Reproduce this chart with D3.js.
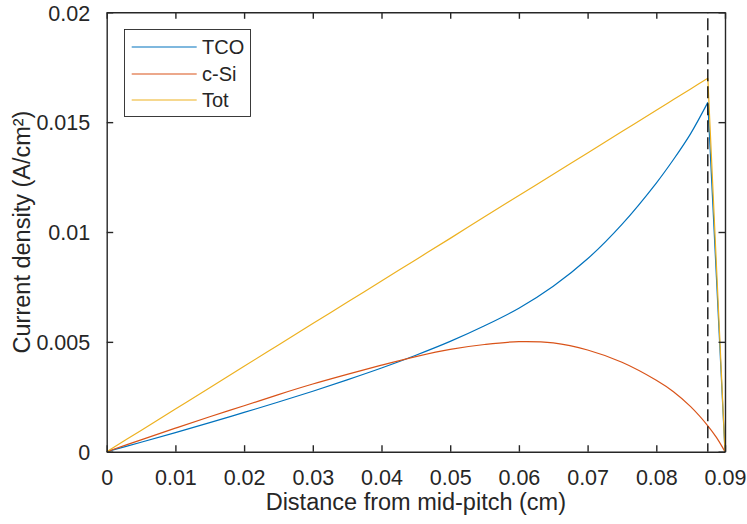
<!DOCTYPE html>
<html>
<head>
<meta charset="utf-8">
<script src="https://cdn.jsdelivr.net/npm/d3@7"></script>
<style>
  html, body { margin: 0; padding: 0; background: #ffffff; }
  svg { display: block; }
  text { font-family: "Liberation Sans", Arial, Helvetica, sans-serif; fill: #262626; }
</style>
</head>
<body>
<svg id="chart" width="747" height="524"></svg>
<script>
// ---- data ----
const distance = [0, 0.005, 0.01, 0.015, 0.02, 0.025, 0.03, 0.035, 0.04, 0.045, 0.05,
                  0.055, 0.06, 0.065, 0.07, 0.075, 0.08, 0.0825, 0.085, 0.0875, 0.08875, 0.09];
const tco  = [0, 0.00043, 0.00087, 0.00132, 0.00179, 0.00226, 0.00275, 0.00327, 0.00381, 0.00439, 0.00502,
              0.00573, 0.00653, 0.00753, 0.00878, 0.01035, 0.01223, 0.01330, 0.01448, 0.01590, 0.00795, 0];
const cSi  = [0, 0.00054, 0.00107, 0.00159, 0.00209, 0.00260, 0.00308, 0.00352, 0.00394, 0.00433, 0.00466,
              0.00488, 0.00501, 0.00495, 0.00463, 0.00407, 0.00325, 0.00273, 0.00205, 0.00118, 0.00065, 0];
const tot  = [0, 0.00097, 0.00194, 0.00291, 0.00389, 0.00486, 0.00583, 0.00680, 0.00777, 0.00874, 0.00971,
              0.01069, 0.01166, 0.01263, 0.01360, 0.01457, 0.01554, 0.01603, 0.01651, 0.01700, 0.00850, 0];
const seriesNames = ["TCO", "c-Si", "Tot"];
const seriesColors = ["#0072BD", "#D95319", "#EDB120"];
const xTicks = [0, 0.01, 0.02, 0.03, 0.04, 0.05, 0.06, 0.07, 0.08, 0.09];
const yTicks = [0, 0.005, 0.01, 0.015, 0.02];
const xTickLabels = ["0", "0.01", "0.02", "0.03", "0.04", "0.05", "0.06", "0.07", "0.08", "0.09"];
const yTickLabels = ["0", "0.005", "0.01", "0.015", "0.02"];
const markerX = 0.0875;
const xLabel = "Distance from mid-pitch (cm)";
const yLabel = "Current density (A/cm²)";

// ---- layout ----
const svg = d3.select("#chart");
const L = 106.7, R = 725, T = 12.3, B = 451.7;
const x = d3.scaleLinear().domain([0, 0.09]).range([L, R]);
const y = d3.scaleLinear().domain([0, 0.02]).range([B, T]);
const axisColor = "#262626";
const tickLen = 6.5;

// ---- data lines ----
const plot = svg.append("g");

function drawSeries(vals, color, splitAtPeak) {
  const pts = distance.map((d, i) => [d, vals[i]]);
  const smooth = d3.line().x(d => x(d[0])).y(d => y(d[1])).curve(d3.curveCatmullRom.alpha(0.5));
  const straight = d3.line().x(d => x(d[0])).y(d => y(d[1]));
  if (splitAtPeak) {
    const pk = d3.maxIndex(vals);
    plot.append("path").attr("d", smooth(pts.slice(0, pk + 1)))
      .attr("fill", "none").attr("stroke", color).attr("stroke-width", 1.2);
    plot.append("path").attr("d", straight(pts.slice(pk)))
      .attr("fill", "none").attr("stroke", color).attr("stroke-width", 1.2);
  } else {
    plot.append("path").attr("d", smooth(pts))
      .attr("fill", "none").attr("stroke", color).attr("stroke-width", 1.2);
  }
}
drawSeries(tco, seriesColors[0], true);
drawSeries(cSi, seriesColors[1], false);
drawSeries(tot, seriesColors[2], true);

// ---- dashed marker ----
svg.append("line")
  .attr("x1", x(markerX)).attr("x2", x(markerX))
  .attr("y1", T).attr("y2", B)
  .attr("stroke", "#000").attr("stroke-width", 1.3)
  .attr("stroke-dasharray", "12,5").attr("stroke-dashoffset", -6);

// ---- axes (box with inward ticks) ----
const axG = svg.append("g");
const xAxisB = d3.axisBottom(x).tickValues(xTicks).tickSize(-tickLen).tickSizeOuter(0)
  .tickFormat((d, i) => xTickLabels[i]).tickPadding(tickLen + 12);
const xAxisT = d3.axisTop(x).tickValues(xTicks).tickSize(-tickLen).tickSizeOuter(0).tickFormat("");
const yAxisL = d3.axisLeft(y).tickValues(yTicks).tickSize(-tickLen).tickSizeOuter(0)
  .tickFormat((d, i) => yTickLabels[i]).tickPadding(tickLen + 10);
const yAxisR = d3.axisRight(y).tickValues(yTicks).tickSize(-tickLen).tickSizeOuter(0).tickFormat("");

const gxb = axG.append("g").attr("transform", `translate(0,${B})`).call(xAxisB);
const gxt = axG.append("g").attr("transform", `translate(0,${T})`).call(xAxisT);
const gyl = axG.append("g").attr("transform", `translate(${L},0)`).call(yAxisL);
const gyr = axG.append("g").attr("transform", `translate(${R},0)`).call(yAxisR);
[gxb, gxt, gyl, gyr].forEach(g => {
  g.selectAll(".domain").attr("stroke", axisColor).attr("stroke-width", 1.4);
  g.selectAll(".tick line").attr("stroke", axisColor).attr("stroke-width", 1.4);
  g.selectAll(".tick text").attr("font-size", 21.5).attr("fill", axisColor)
    .attr("font-family", '"Liberation Sans", Arial, sans-serif');
});
gxb.selectAll(".tick text").attr("y", 18).attr("dy", "0.71em");
gyl.selectAll(".tick text").attr("dy", "0.36em");

// ---- axis labels ----
svg.append("text").attr("x", (L + R) / 2).attr("y", 510)
  .attr("text-anchor", "middle").attr("font-size", 23.5).text(xLabel);
svg.append("text").attr("transform", `translate(30,${(T + B) / 2}) rotate(-90)`)
  .attr("text-anchor", "middle").attr("font-size", 23.5).text(yLabel);

// ---- legend ----
const lg = svg.append("g");
lg.append("rect").attr("x", 124.5).attr("y", 29.5).attr("width", 126).attr("height", 87)
  .attr("fill", "#fff").attr("stroke", axisColor).attr("stroke-width", 0.9);
const legY = [47, 74, 100];
seriesNames.forEach((n, i) => {
  lg.append("line").attr("x1", 131.7).attr("x2", 196.7).attr("y1", legY[i]).attr("y2", legY[i])
    .attr("stroke", seriesColors[i]).attr("stroke-width", 1.2);
  lg.append("text").attr("x", 202).attr("y", legY[i]).attr("dy", "0.36em")
    .attr("font-size", 20).text(n);
});
</script>
</body>
</html>
